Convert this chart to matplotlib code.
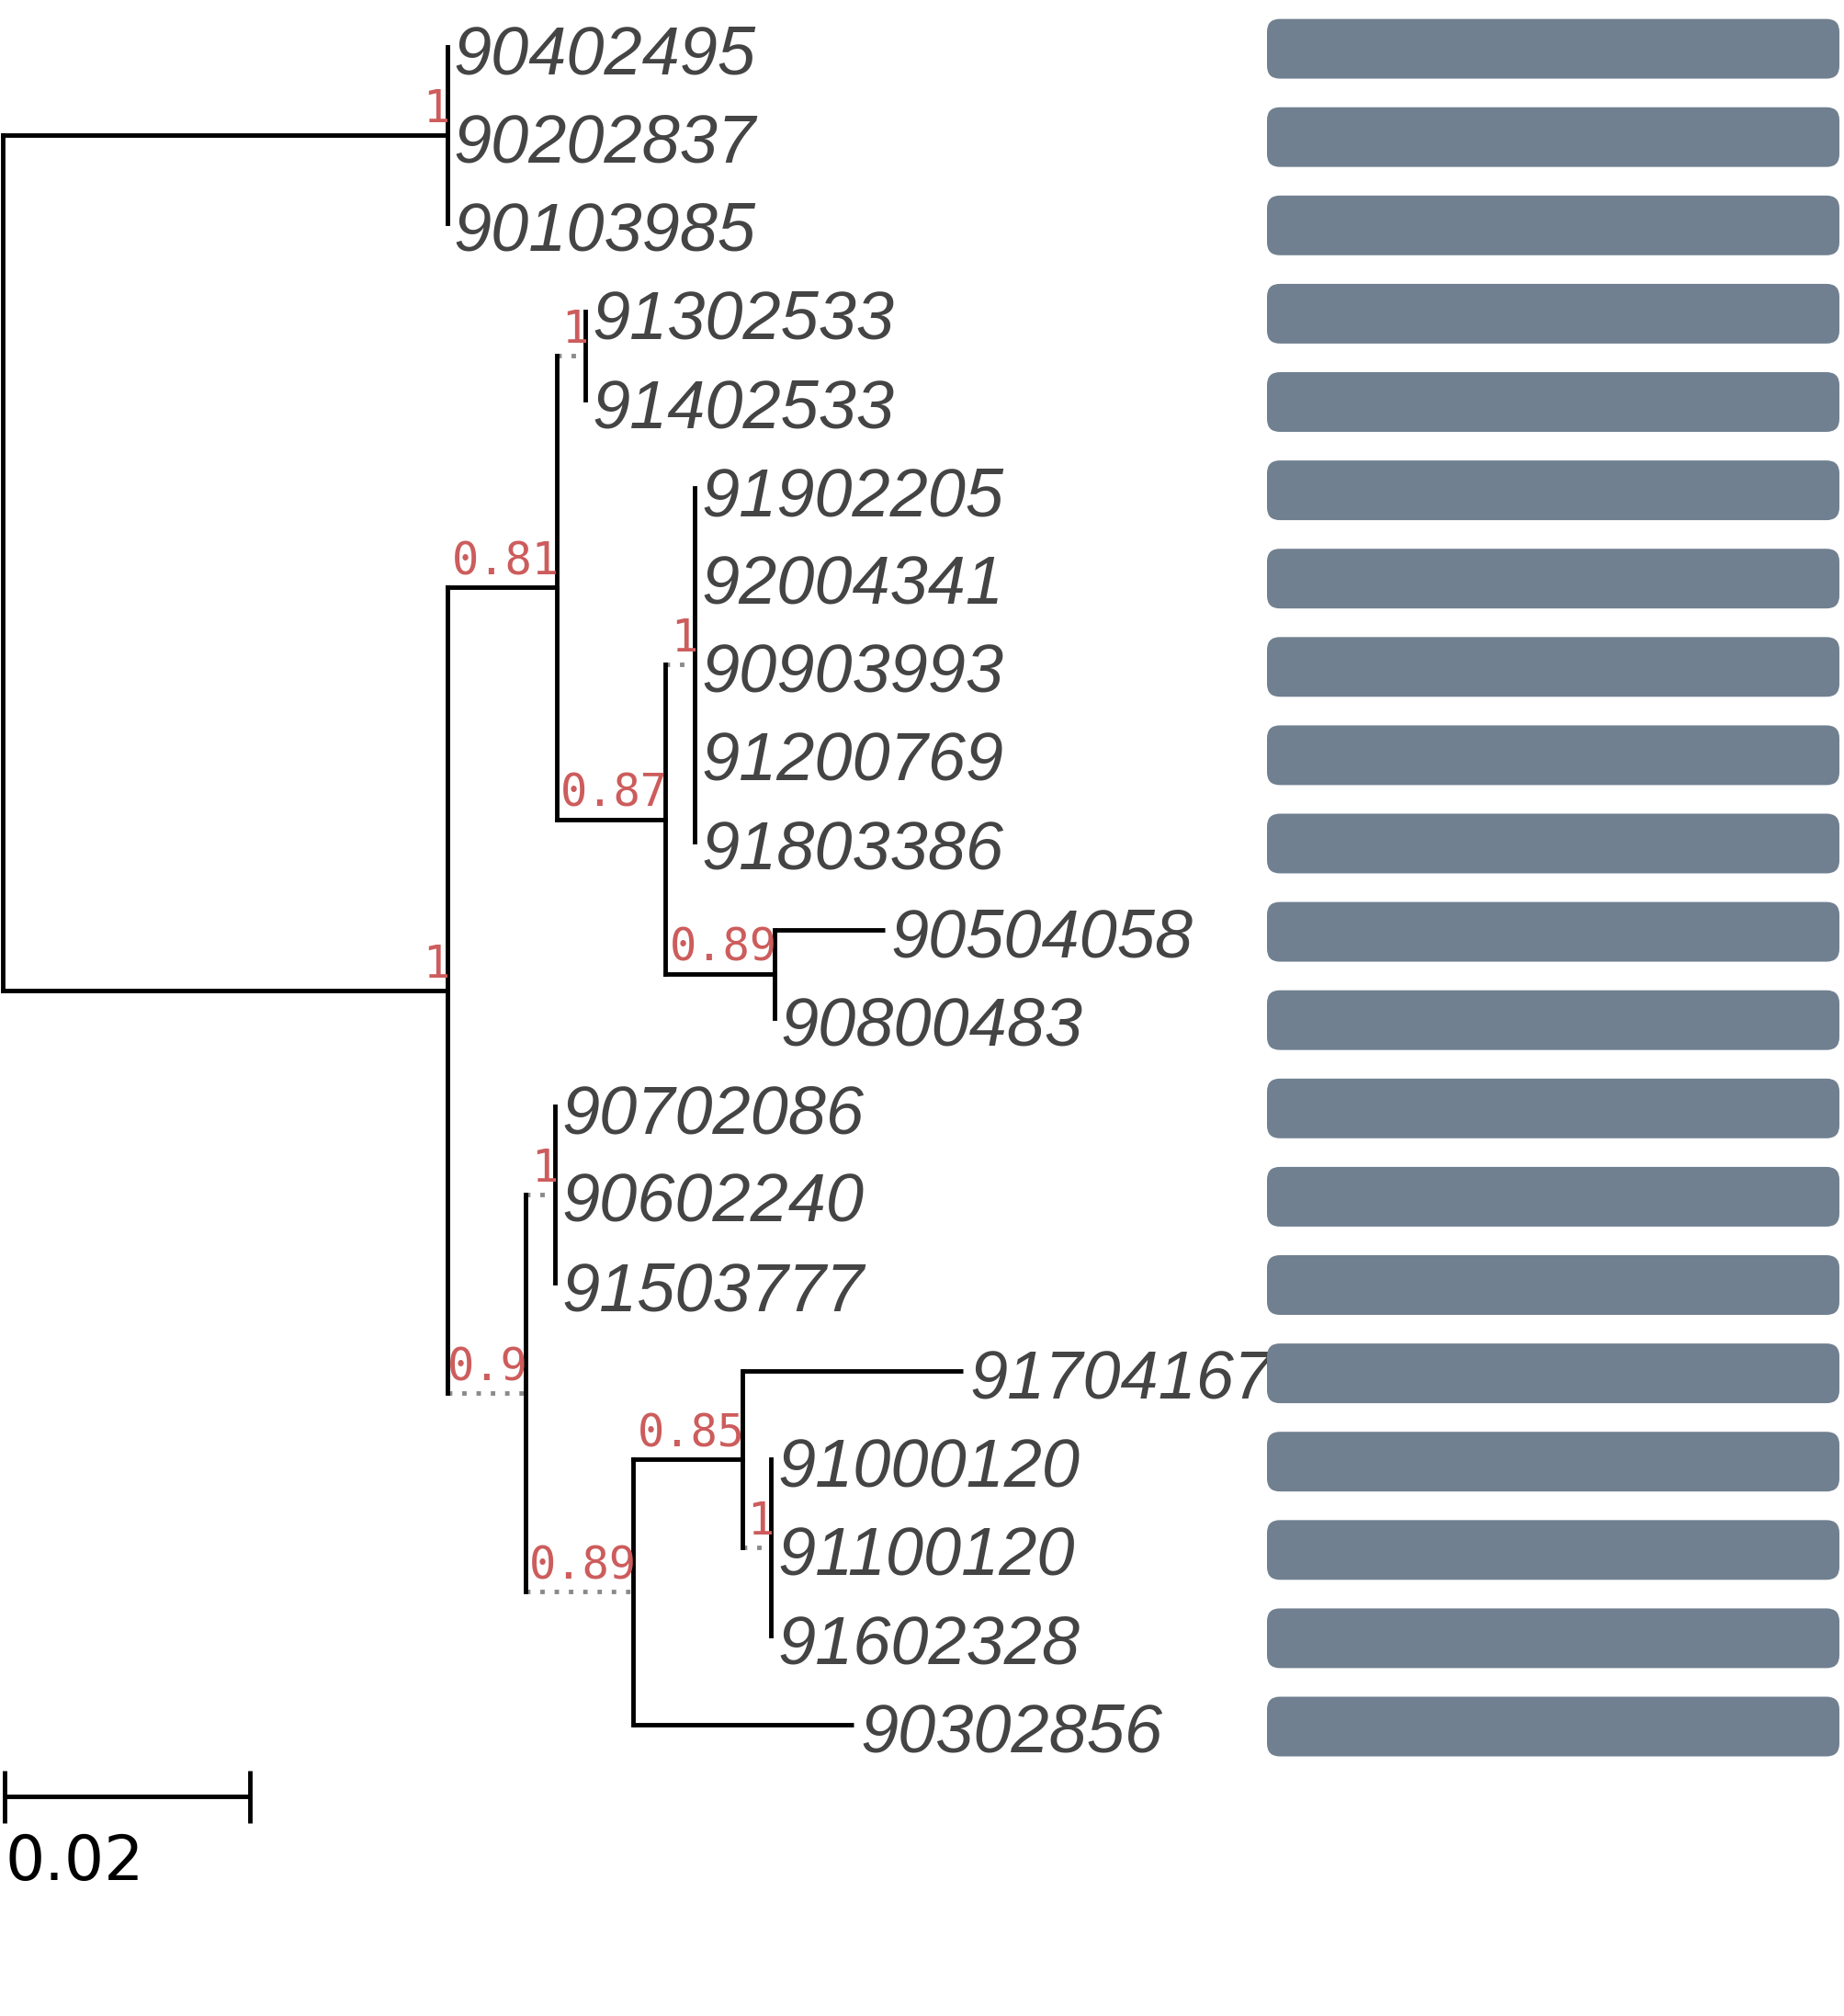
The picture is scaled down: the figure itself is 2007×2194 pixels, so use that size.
import matplotlib
matplotlib.use("Agg")
import matplotlib.pyplot as plt
from matplotlib.patches import FancyBboxPatch
from matplotlib.transforms import offset_copy

# ---------------- data ----------------
leaf_names = ["90402495", "90202837", "90103985", "91302533", "91402533",
              "91902205", "92004341", "90903993", "91200769", "91803386",
              "90504058", "90800483", "90702086", "90602240", "91503777",
              "91704167", "91000120", "91100120", "91602328", "90302856"]
leaf_parent = ["A", "A", "A", "B", "B",
               "C", "C", "C", "C", "C",
               "D", "D", "E", "E", "E",
               "F", "G", "G", "G", "H"]
leaf_branch = [0, 0, 0, 0, 0,
               0, 0, 0, 0, 0,
               0.00902, 0, 0, 0, 0,
               0.01804, 0, 0, 0, 0.0180]

# internal nodes (root first)
node_ids = ["root", "A", "big", "n081", "B", "n087", "C", "D",
            "n090", "E", "H", "F", "G"]
node_parent = [None, "root", "root", "big", "n081", "n081", "n087", "n087",
               "big", "n090", "n090", "H", "F"]
node_branch = [0.0, 0.0363, 0.0363, 0.00892, 0.00235, 0.00889, 0.00238, 0.00888,
               0.0064, 0.0024, 0.0088, 0.00888, 0.00235]
node_support = [None, "1", "1", "0.81", "1", "0.87", "1", "0.89",
                "0.9", "1", "0.89", "0.85", "1"]
node_dotted = [False, False, False, False, True, False, True, False,
               True, True, True, False, True]

bar_values = [1.0, 1.0, 1.0, 1.0, 1.0, 1.0, 1.0, 1.0, 1.0, 1.0,
              1.0, 1.0, 1.0, 1.0, 1.0, 1.0, 1.0, 1.0, 1.0, 1.0]
scale_length = 0.02
scale_label = "0.02"

# ---------------- layout ----------------
W, H, DPI = 2007, 2194, 100
fig = plt.figure(figsize=(W / DPI, H / DPI), dpi=DPI)
ax = fig.add_axes([0, 0, 1, 1])
px_per_unit = 13335.0
root_px = 2.7
row0_px, row_px = 50.7, 96.1
ax.set_xlim(-root_px / px_per_unit, (W - root_px) / px_per_unit)
ax.set_ylim((H - row0_px) / row_px, -row0_px / row_px)
ax.axis("off")

# ---------------- compute tree coordinates ----------------
nx, ny = {}, {}
for nid, par, bl in zip(node_ids, node_parent, node_branch):
    nx[nid] = 0.0 if par is None else nx[par] + bl
leaf_x = [nx[p] + bl for p, bl in zip(leaf_parent, leaf_branch)]
leaf_y = list(range(len(leaf_names)))

children = {nid: [] for nid in node_ids}
for i, p in enumerate(leaf_parent):
    children[p].append(("leaf", i))
for nid, p in zip(node_ids, node_parent):
    if p is not None:
        children[p].append(("node", nid))


def get_y(kind, key):
    if kind == "leaf":
        return leaf_y[key]
    if key not in ny:
        ys = [get_y(k, c) for k, c in children[key]]
        ny[key] = sum(ys) / len(ys)
    return ny[key]


for nid in node_ids:
    get_y("node", nid)

LW = 3.5
black = "black"
dot_col = "#8a8a8a"

# vertical lines
for nid in node_ids:
    ys = [get_y(k, c) for k, c in children[nid]]
    ax.plot([nx[nid], nx[nid]], [min(ys), max(ys)], color=black, lw=LW,
            solid_capstyle="projecting", zorder=2)

# horizontal edges of internal nodes
for nid, par, dotted in zip(node_ids, node_parent, node_dotted):
    if par is None:
        continue
    if dotted:
        ax.plot([nx[par], nx[nid]], [ny[nid], ny[nid]], color=dot_col, lw=LW,
                linestyle=(0, (1.0, 2.2)), dash_capstyle="butt", zorder=1)
    else:
        ax.plot([nx[par], nx[nid]], [ny[nid], ny[nid]], color=black, lw=LW,
                solid_capstyle="projecting", zorder=2)

# horizontal edges of leaves
for i, p in enumerate(leaf_parent):
    if leaf_branch[i] > 0:
        ax.plot([nx[p], leaf_x[i]], [leaf_y[i], leaf_y[i]], color=black, lw=LW,
                solid_capstyle="butt", zorder=2)

# leaf labels
lab_tr = offset_copy(ax.transData, fig=fig, x=7, y=-30, units="dots")
for name, x, y in zip(leaf_names, leaf_x, leaf_y):
    ax.text(x, y, name, transform=lab_tr, ha="left", va="baseline",
            fontsize=53.3, fontstyle="italic", family="Liberation Sans",
            color="#444444", zorder=3)

# support labels
sup_tr = offset_copy(ax.transData, fig=fig, x=3, y=14, units="dots")
for nid, s in zip(node_ids, node_support):
    if s is None:
        continue
    ax.text(nx[nid], ny[nid], s, transform=sup_tr, ha="right", va="baseline",
            fontsize=35, family="DejaVu Sans Mono", color="#cd5c5c", zorder=4)

# scale bar
sb_x0 = 2.3 / px_per_unit
sb_y = 19.82
sb_h = 0.30
ax.plot([sb_x0, sb_x0 + scale_length], [sb_y, sb_y], color=black, lw=LW,
        solid_capstyle="butt")
for xx in (sb_x0, sb_x0 + scale_length):
    ax.plot([xx, xx], [sb_y - sb_h, sb_y + sb_h], color=black, lw=LW,
            solid_capstyle="butt")
ax.text(sb_x0, 20.76, scale_label, ha="left", va="baseline", fontsize=49,
        family="DejaVu Sans", color=black)

# ---------------- bars ----------------
bx0, bx1 = 1379, 2002
ax2 = fig.add_axes([bx0 / W, 0, (bx1 - bx0) / W, 1], sharey=ax)
ax2.set_xlim(0, 1.0)
ax2.axis("off")
fig.canvas.draw()
bar_h = 0.676
radius_px = 14.0
p0 = ax2.transData.transform((0, 0))
p1 = ax2.transData.transform((1, 1))
ux = abs(p1[0] - p0[0])
uy = abs(p1[1] - p0[1])
r_x = radius_px / ux
aspect = (radius_px / uy) / r_x
for y, v in zip(leaf_y, bar_values):
    patch = FancyBboxPatch((0, y + 0.025 - bar_h / 2), v, bar_h,
                           boxstyle=f"round,pad=0,rounding_size={r_x}",
                           mutation_aspect=aspect, facecolor="#708090",
                           edgecolor="none")
    ax2.add_patch(patch)

fig.savefig("out.png", dpi=DPI, facecolor="white")
